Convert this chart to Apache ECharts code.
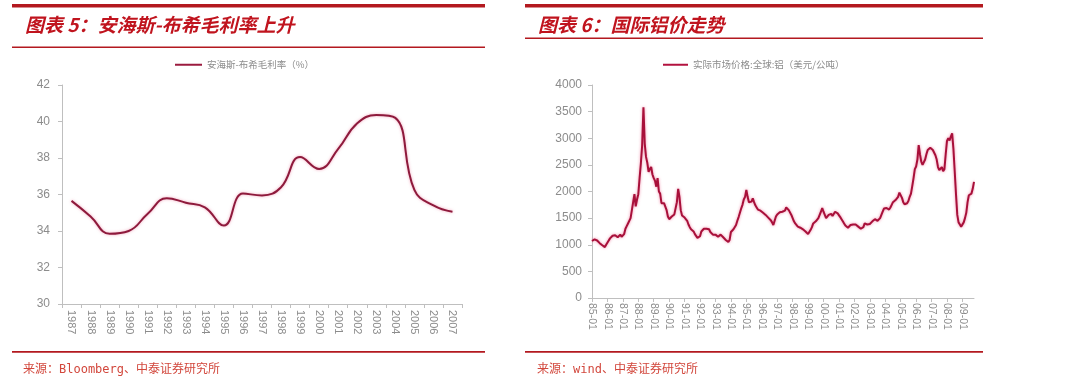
<!DOCTYPE html>
<html>
<head>
<meta charset="utf-8">
<script src="https://cdn.jsdelivr.net/npm/echarts@6/dist/echarts.min.js"></script>
<style>
html,body{margin:0;padding:0;background:#fff;}
#c{width:1080px;height:388px;}
</style>
</head>
<body>
<div id="c"></div>
<script>
// ---------- Chart 1 data ----------
const marginYears = ['1987','1988','1989','1990','1991','1992','1993','1994','1995','1996','1997','1998','1999','2000','2001','2002','2003','2004','2005','2006','2007'];
const grossMargin = [35.65, 34.8, 33.85, 34.0, 34.95, 35.8, 35.55, 35.3, 34.3, 36.05, 35.95, 36.4, 38.05, 37.4, 38.5, 39.9, 40.35, 40.2, 36.25, 35.4, 35.05];
const marginTicks = [30, 32, 34, 36, 38, 40, 42];

// ---------- Chart 2 data (monthly, 1985-01 .. 2009-10) ----------
const alYears = ['85','86','87','88','89','90','91','92','93','94','95','96','97','98','99','00','01','02','03','04','05','06','07','08','09'];
const al1985_1989 = [
  1070,1090,1100,1100,1080,1050,1030,1010,990,960,955,1000,
  1030,1080,1120,1150,1170,1180,1180,1170,1140,1170,1190,1150,
  1140,1200,1300,1350,1400,1430,1500,1650,1800,1950,1720,1850,
  1950,2250,2530,2870,3580,2900,2650,2540,2370,2420,2460,2320,
  2250,2200,2090,2250,2000,1960,1780,1800,1780,1750,1650,1530
];
const al1990_1994 = [
  1480,1470,1530,1560,1570,1600,1800,2050,1900,1650,1550,1520,
  1510,1490,1450,1380,1330,1290,1280,1250,1200,1170,1130,1110,
  1160,1250,1280,1300,1310,1300,1310,1290,1240,1210,1190,1190,
  1190,1180,1150,1170,1190,1180,1140,1110,1090,1060,1050,1090,
  1240,1260,1290,1310,1370,1450,1520,1600,1680,1750,1850,1900
];
const al1995_1999 = [
  2030,1900,1800,1790,1810,1870,1800,1740,1700,1660,1650,1640,
  1620,1600,1590,1560,1530,1510,1480,1460,1420,1370,1450,1530,
  1570,1590,1610,1600,1620,1600,1640,1700,1680,1650,1620,1560,
  1500,1440,1400,1370,1340,1330,1320,1330,1290,1270,1250,1230,
  1200,1220,1280,1330,1400,1420,1440,1470,1500,1530,1620,1690
];
const al2000_2004 = [
  1620,1560,1500,1530,1560,1590,1580,1540,1560,1620,1600,1590,
  1580,1520,1480,1440,1400,1360,1330,1320,1350,1370,1390,1380,
  1400,1380,1360,1340,1320,1300,1290,1330,1400,1390,1380,1370,
  1390,1410,1440,1460,1480,1470,1450,1460,1500,1560,1620,1680,
  1660,1690,1720,1660,1700,1750,1800,1830,1840,1870,1900,1980
];
const al2005_2009 = [
  1950,1880,1800,1760,1750,1780,1820,1900,1960,2100,2250,2420,
  2470,2600,2870,2700,2560,2500,2520,2600,2700,2780,2810,2820,
  2800,2780,2750,2680,2600,2460,2400,2430,2460,2380,2420,2700,
  2950,3000,2960,3030,3090,2800,2380,1950,1560,1420,1380,1340,
  1360,1420,1500,1600,1800,1930,1900,1960,2050,2180
];
const alPrice = [].concat(al1985_1989, al1990_1994, al1995_1999, al2000_2004, al2005_2009);
const alMonths = [];
alYears.forEach(y => { for (let m = 1; m <= 12; m++) alMonths.push(y + '-' + (m < 10 ? '0' + m : '' + m)); });
alMonths.length = alPrice.length;
const alTicks = [0, 500, 1000, 1500, 2000, 2500, 3000, 3500, 4000];

// ---------- texts ----------
const title1 = '图表 5：安海斯-布希毛利率上升';
const title2 = '图表 6：国际铝价走势';
const legend1 = '安海斯-布希毛利率（%）';
const legend2 = '实际市场价格:全球:铝（美元/公吨）';
const source1 = '来源：Bloomberg、中泰证券研究所';
const source2 = '来源：wind、中泰证券研究所';

const RED = '#B3191F';
const AXIS = '#BFBFBF';
const LBL = '#8C8C8C';
const CJK = '"Noto Sans CJK SC", "Noto Sans", sans-serif';
const LAT = '"Liberation Sans", Arial, sans-serif';

const chart = echarts.init(document.getElementById('c'), null, {renderer: 'canvas'});

function bar(x, y, w, h) {
  return {type: 'rect', shape: {x: x, y: y, width: w, height: h}, style: {fill: RED}, silent: true};
}
function txt(x, y, t, size, weight, style, color, font) {
  return {type: 'text', x: x, y: y, silent: true,
    style: {text: t, fill: color, font: (style || 'normal') + ' ' + weight + ' ' + size + 'px ' + font, textVerticalAlign: 'middle'}};
}

const option = {
  backgroundColor: '#fff',
  animation: false,
  graphic: [
    bar(12, 4, 473, 3.5), bar(12, 46.5, 473, 1.6), bar(12, 351, 473, 1.8),
    bar(525, 4, 458, 3.5), bar(525, 37.5, 458, 1.6), bar(525, 351, 458, 1.8),
    txt(25, 25, title1, 19, 'bold', 'italic', '#C0141E', CJK),
    txt(538, 25, title2, 19, 'bold', 'italic', '#C0141E', CJK),
    txt(23, 370, source1, 12, 'normal', 'normal', '#D2473C', '"DejaVu Sans Mono", "Noto Sans CJK SC", monospace'),
    txt(537, 370, source2, 12, 'normal', 'normal', '#D2473C', '"DejaVu Sans Mono", "Noto Sans CJK SC", monospace')
  ],
  legend: [
    {data: [{name: legend1}], left: 170, top: 55, itemWidth: 27, itemHeight: 2, icon: 'rect', itemGap: 5,
     textStyle: {color: '#8C8C8C', fontSize: 9.5, fontFamily: CJK}},
    {data: [{name: legend2}], left: 658, top: 55, itemWidth: 25, itemHeight: 2, icon: 'rect', itemGap: 5,
     textStyle: {color: '#8C8C8C', fontSize: 9.5, fontFamily: CJK}}
  ],
  grid: [
    {left: 62, top: 85, width: 400, height: 219},
    {left: 592, top: 85, width: 382, height: 213}
  ],
  xAxis: [
    {type: 'category', gridIndex: 0, data: marginYears, boundaryGap: true,
     axisLine: {lineStyle: {color: AXIS, width: 1}},
     axisTick: {show: true, length: 4, lineStyle: {color: AXIS}},
     axisLabel: {rotate: -90, color: LBL, fontSize: 11, margin: 6, interval: 0, hideOverlap: false, fontFamily: LAT},
     splitLine: {show: false}},
    {type: 'category', gridIndex: 1, data: alMonths, boundaryGap: false,
     axisLine: {lineStyle: {color: AXIS, width: 1}},
     axisTick: {show: true, length: 4, interval: 11, lineStyle: {color: AXIS}},
     axisLabel: {rotate: -90, color: LBL, fontSize: 10.5, margin: 5, interval: 11, hideOverlap: false, fontFamily: LAT},
     splitLine: {show: false}}
  ],
  yAxis: [
    {type: 'value', gridIndex: 0, min: marginTicks[0], max: marginTicks[marginTicks.length - 1], interval: 2,
     axisLine: {show: true, lineStyle: {color: AXIS}},
     axisTick: {show: true, length: 4, lineStyle: {color: AXIS}},
     axisLabel: {color: LBL, fontSize: 12, margin: 12, fontFamily: LAT},
     splitLine: {show: false}},
    {type: 'value', gridIndex: 1, min: alTicks[0], max: alTicks[alTicks.length - 1], interval: 500,
     axisLine: {show: true, lineStyle: {color: AXIS}},
     axisTick: {show: true, length: 4, lineStyle: {color: AXIS}},
     axisLabel: {color: LBL, fontSize: 12, margin: 10, fontFamily: LAT, formatter: v => String(v)},
     splitLine: {show: false}}
  ],
  series: [
    {name: legend1, type: 'line', xAxisIndex: 0, yAxisIndex: 0, data: grossMargin, smooth: 0.45,
     showSymbol: false, symbol: 'none', color: '#9B1B3F',
     lineStyle: {color: '#8E1A3C', width: 2, shadowColor: 'rgba(230,90,130,0.55)', shadowBlur: 3}},
    {name: legend2, type: 'line', xAxisIndex: 1, yAxisIndex: 1, data: alPrice, smooth: false,
     showSymbol: false, symbol: 'none', color: '#B3123F',
     lineStyle: {color: '#A8103A', width: 2, shadowColor: 'rgba(230,60,110,0.6)', shadowBlur: 3}}
  ]
};
chart.setOption(option);
</script>
</body>
</html>
